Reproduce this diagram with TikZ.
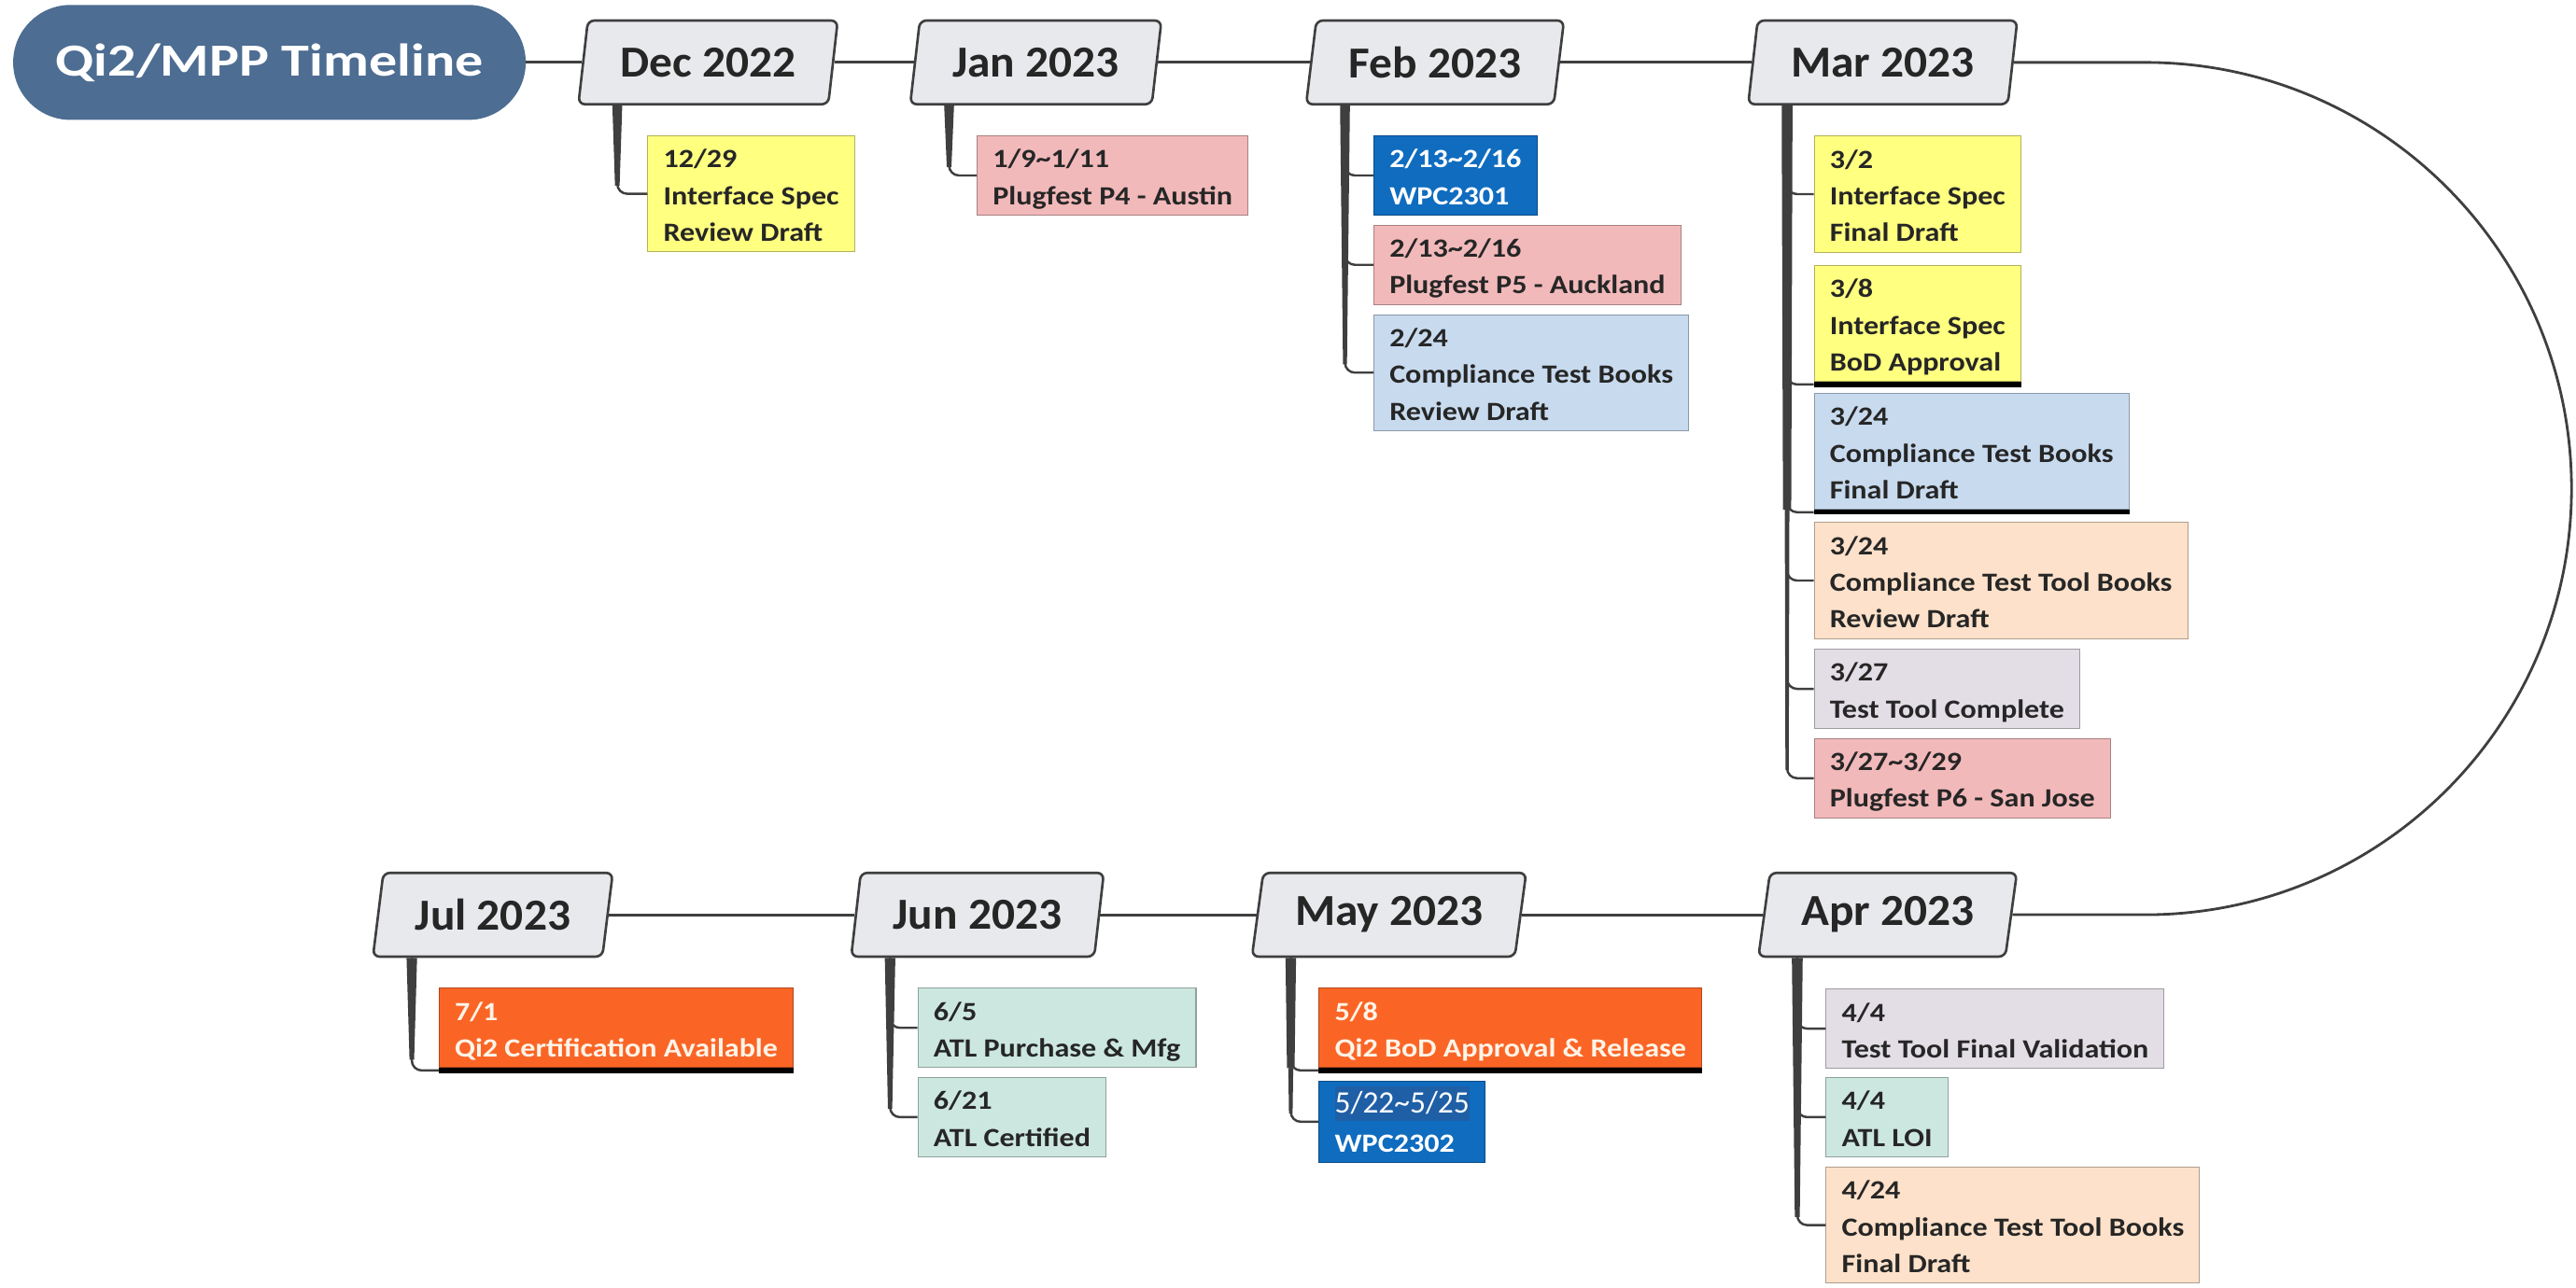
\documentclass[tikz,border=0pt]{standalone}
\usepackage{fontspec}
\setmainfont{Carlito}
\newfontfamily\evfont{Carlito}[FakeStretch=1.14]
\newfontfamily\mofont{Carlito}[FakeStretch=1.04]
\newfontfamily\tifont{Carlito}[FakeStretch=1.22]
\usetikzlibrary{shapes.geometric,calc}
\definecolor{pill}{HTML}{4D6D92}
\definecolor{monthfill}{HTML}{E8E9ED}
\definecolor{lineC}{HTML}{3F3F3F}
\definecolor{txt}{HTML}{262626}
\definecolor{cyel}{HTML}{FFFF80}
\definecolor{cpink}{HTML}{F2B9BA}
\definecolor{clblue}{HTML}{C8DAEE}
\definecolor{cdblue}{HTML}{0F6CBF}
\definecolor{cpeach}{HTML}{FDE1CA}
\definecolor{clav}{HTML}{E3DDE6}
\definecolor{cmint}{HTML}{CCE7E0}
\definecolor{corange}{HTML}{FA6526}
\definecolor{cream}{HTML}{FFF4E8}
\definecolor{hlblue}{HTML}{1F5FA6}
\newcommand\sx{\rule[-4.6pt]{0pt}{22.3pt}}
\newcommand\tld{\textasciitilde}
\newcommand\trunk[4]{\fill[lineC] ($(#1)+(-#3,0)$) -- ($(#1)+(#3,0)$) -- ($(#1|-#2)+(#4,-5)$) -- ($(#1|-#2)+(-#4,-5)$) -- cycle;}
\begin{document}
\begin{tikzpicture}[x=1pt,y=-1pt,
  titlebox/.style={fill=pill, rounded corners=35pt, minimum width=312pt, minimum height=70pt, inner sep=0pt, text=white, font=\tifont\bfseries\fontsize{28}{30}\selectfont},
  month/.style={trapezium, trapezium left angle=76.8, trapezium right angle=103.2, trapezium stretches=true, minimum height=51pt, minimum width=#1, fill=monthfill, draw=lineC, line width=1.5pt, rounded corners=4pt, inner sep=0pt, text=txt, font=\mofont\bfseries\fontsize{27}{30}\selectfont},
  ev/.style={fill=#1, draw=#1!70!black, line width=0.6pt, anchor=north west, align=left, inner xsep=9.5pt, inner ysep=1.85pt, text=txt, font=\evfont\bfseries\fontsize{16}{22.3}\selectfont},
  conn/.style={draw=lineC, line width=1.8pt},
  curveline/.style={draw=lineC, line width=1.6pt},
  branch/.style={draw=lineC, line width=1.4pt, rounded corners=6pt},
  uline/.style={draw=black, line width=3pt}
]
\useasboundingbox (0,0) rectangle (1568,784);

% title and months
\node[titlebox] (title) at (164,38) {Qi2/MPP Timeline};
\node[month=158pt] (dec) at (431,38) {Dec 2022};
\node[month=153pt] (jan) at (630.5,38) {Jan 2023};
\node[month=157pt] (feb) at (873.5,38) {Feb 2023};
\node[month=164pt] (mar) at (1146,38) {Mar 2023};
\node[month=146pt] (jul) at (300,557) {Jul 2023};
\node[month=154pt] (jun) at (595,557) {Jun 2023};
\node[month=167pt] (may) at (845.5,557) {May 2023};
\node[month=157.5pt] (apr) at (1149,557) {Apr 2023};

% main connectors
\draw[conn] (title.east) -- (dec.left side);
\draw[conn] (dec.right side) -- (jan.left side);
\draw[conn] (jan.right side) -- (feb.left side);
\draw[conn] (feb.right side) -- (mar.left side);
\draw[curveline] (mar.right side) -- ++(80,0) arc[start angle=-90,end angle=90,radius=259.5] -- (apr.right side);
\draw[conn] (apr.left side) -- (may.right side);
\draw[conn] (may.left side) -- (jun.right side);
\draw[conn] (jun.left side) -- (jul.right side);

% events
\node[ev=cyel] (e1) at (394,82.4) {\sx 12/29\\\sx Interface Spec\\\sx Review Draft};
\node[ev=cpink] (e2) at (594.5,82.4) {\sx 1/9\tld 1/11\\\sx Plugfest P4 - Austin};
\node[ev=cdblue, text=white] (e3) at (836,82.4) {\sx 2/13\tld 2/16\\\sx WPC2301};
\node[ev=cpink] (e4) at (836,136.8) {\sx 2/13\tld 2/16\\\sx Plugfest P5 - Auckland};
\node[ev=clblue] (e5) at (836,191.3) {\sx 2/24\\\sx Compliance Test Books\\\sx Review Draft};
\node[ev=cyel] (e6) at (1104,82.6) {\sx 3/2\\\sx Interface Spec\\\sx Final Draft};
\node[ev=cyel] (e7) at (1104,161.4) {\sx 3/8\\\sx Interface Spec\\\sx BoD Approval};
\node[ev=clblue] (e8) at (1104,239.2) {\sx 3/24\\\sx Compliance Test Books\\\sx Final Draft};
\node[ev=cpeach] (e9) at (1104,317.9) {\sx 3/24\\\sx Compliance Test Tool Books\\\sx Review Draft};
\node[ev=clav] (e10) at (1104,395) {\sx 3/27\\\sx Test Tool Complete};
\node[ev=cpink] (e11) at (1104,449.4) {\sx 3/27\tld 3/29\\\sx Plugfest P6 - San Jose};
\node[ev=corange, text=cream] (e12) at (267,601.4) {\sx 7/1\\\sx Qi2 Certification Available};
\node[ev=cmint] (e13) at (558.5,601.4) {\sx 6/5\\\sx ATL Purchase \& Mfg};
\node[ev=cmint] (e14) at (558.5,655.8) {\sx 6/21\\\sx ATL Certified};
\node[ev=corange, text=cream] (e15) at (802.7,601.4) {\sx 5/8\\\sx Qi2 BoD Approval \& Release};
\node[ev=cdblue, text=white] (e16) at (802.7,657.9) {\sx{\rmfamily\mdseries\fontsize{19}{22.3}\selectfont\setlength\fboxsep{0pt}\colorbox{hlblue}{\rule[-5pt]{0pt}{21pt}5/22\tld 5/25}}\\\sx WPC2302};
\node[ev=clav] (e17) at (1111.3,601.9) {\sx 4/4\\\sx Test Tool Final Validation};
\node[ev=cmint] (e18) at (1111.3,655.8) {\sx 4/4\\\sx ATL LOI};
\node[ev=cpeach] (e19) at (1111.3,710.4) {\sx 4/24\\\sx Compliance Test Tool Books\\\sx Final Draft};

% underlines
\foreach \e in {e7,e8,e12,e15}
  \draw[uline] ([yshift=-1.5pt]\e.south west) -- ([yshift=-1.5pt]\e.south east);

% stems
\coordinate (decT) at ($(dec.bottom left corner)+(24.5,0)$);
\coordinate (janT) at ($(jan.bottom left corner)+(24.5,0)$);
\coordinate (febT) at ($(feb.bottom left corner)+(24.5,0)$);
\coordinate (marT) at ($(mar.bottom left corner)+(24.5,0)$);
\coordinate (julT) at ($(jul.bottom left corner)+(24.5,0)$);
\coordinate (junT) at ($(jun.bottom left corner)+(24.5,0)$);
\coordinate (mayT) at ($(may.bottom left corner)+(24.5,0)$);
\coordinate (aprT) at ($(apr.bottom left corner)+(24.5,0)$);

\trunk{decT}{e1.west}{3}{1.4}
\trunk{janT}{e2.west}{3}{1.4}
\trunk{febT}{e5.west}{3}{1.2}
\fill[lineC] ($(marT)+(-3.3,0)$) -- ($(marT)+(3.3,0)$) -- ($(marT|-e8.south)+(2.5,0)$) -- ($(marT|-e8.south)+(-2.5,0)$) -- cycle;
\fill[lineC] ($(marT|-e8.south)+(-1.4,0)$) -- ($(marT|-e8.south)+(1.4,0)$) -- ($(marT|-e11.west)+(1,-5)$) -- ($(marT|-e11.west)+(-1,-5)$) -- cycle;
\trunk{julT}{e12.south}{3.2}{1.4}
\trunk{junT}{e14.west}{3.2}{1.3}
\fill[lineC] ($(mayT)+(-3.2,0)$) -- ($(mayT)+(3.2,0)$) -- ($(mayT|-e15.south)+(2.3,0)$) -- ($(mayT|-e15.south)+(-2.3,0)$) -- cycle;
\fill[lineC] ($(mayT|-e15.south)+(-1.5,0)$) -- ($(mayT|-e15.south)+(1.5,0)$) -- ($(mayT|-e16.west)+(1.1,-5)$) -- ($(mayT|-e16.west)+(-1.1,-5)$) -- cycle;
\trunk{aprT}{e19.west}{3.3}{1.5}

% branches
\draw[branch] (decT) |- (e1.west);
\draw[branch] (janT) |- (e2.west);
\draw[branch] (febT) |- (e3.west);
\draw[branch] (febT) |- (e4.west);
\draw[branch] (febT) |- (e5.west);
\draw[branch] (marT) |- (e6.west);
\draw[branch] (marT) |- ([yshift=-1.5pt]e7.south west);
\draw[branch] (marT) |- ([yshift=-1.5pt]e8.south west);
\draw[branch] (marT) |- (e9.west);
\draw[branch] (marT) |- (e10.west);
\draw[branch] (marT) |- (e11.west);
\draw[branch] (julT) |- ([yshift=-1.5pt]e12.south west);
\draw[branch] (junT) |- (e13.west);
\draw[branch] (junT) |- (e14.west);
\draw[branch] (mayT) |- ([yshift=-1.5pt]e15.south west);
\draw[branch] (mayT) |- (e16.west);
\draw[branch] (aprT) |- (e17.west);
\draw[branch] (aprT) |- (e18.west);
\draw[branch] (aprT) |- (e19.west);
\end{tikzpicture}
\end{document}
